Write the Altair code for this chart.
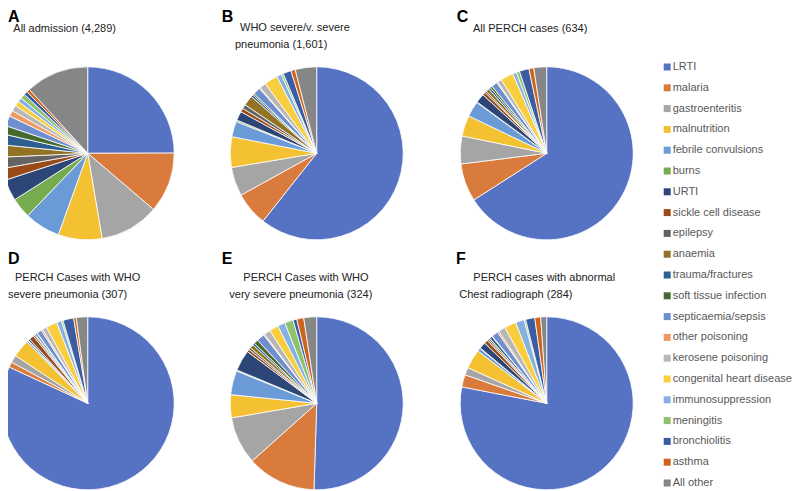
import altair as alt
import pandas as pd

categories = ["LRTI", "malaria", "gastroenteritis", "malnutrition", "febrile convulsions",
              "burns", "URTI", "sickle cell disease", "epilepsy", "anaemia",
              "trauma/fractures", "soft tissue infection", "septicaemia/sepsis",
              "other poisoning", "kerosene poisoning", "congenital heart disease",
              "immunosuppression", "meningitis", "bronchiolitis", "asthma", "All other"]

colors = ["#5672C3", "#D97B3C", "#A5A5A5", "#F3C131", "#6A9BD6", "#77AC4E", "#2C4678",
          "#9A4A17", "#636363", "#927323", "#2D5E92", "#466A2E", "#6D8FD0", "#EE9A62",
          "#B7B7B7", "#F9CE3E", "#84B1DF", "#90C16D", "#3A5CA2", "#CC6420", "#868686"]

# percentage shares (clockwise from 12 o'clock, legend order)
pct_A = [25.0, 11.3, 11.1, 8.2, 6.7, 3.8, 4.0, 2.2, 2.1, 2.3, 2.0, 1.6, 1.9, 1.1, 1.1, 0.95, 0.8, 0.9, 0.7, 0.6, 11.8]
pct_B = [60.6, 6.3, 5.4, 5.7, 2.9, 0.3, 1.7, 0.7, 0.8, 1.9, 0.4, 0.3, 1.4, 0.2, 1.2, 2.5, 0.9, 0.4, 1.5, 0.8, 4.0]
pct_C = [66.0, 7.1, 5.2, 3.9, 2.9, 0.1, 1.7, 0.6, 0.3, 0.6, 0.4, 0.4, 1.1, 0.2, 0.8, 2.4, 0.7, 0.6, 1.8, 0.9, 2.4]
pct_D = [81.8, 1.0, 1.4, 3.3, 0.3, 0.1, 0.3, 0.9, 0.3, 0.2, 0.3, 0.1, 0.9, 0.3, 0.8, 2.1, 0.9, 0.3, 2.0, 0.5, 2.1]
pct_E = [50.5, 12.9, 8.9, 4.3, 4.5, 0.2, 3.9, 0.5, 0.4, 0.7, 0.4, 0.8, 1.5, 0.2, 1.2, 1.7, 1.4, 1.6, 0.7, 1.3, 2.4]
pct_F = [77.8, 2.3, 1.4, 3.6, 0.6, 0.1, 1.2, 0.7, 0.3, 0.3, 0.5, 0.1, 1.2, 0.3, 1.3, 2.2, 1.6, 0.3, 1.7, 1.1, 1.1]

panel_letters = ["A", "B", "C", "D", "E", "F"]
panel_titles = [
    ["All admission (4,289)"],
    ["WHO severe/v. severe", "pneumonia (1,601)"],
    ["All PERCH cases (634)"],
    ["PERCH Cases with WHO", "severe pneumonia (307)"],
    ["PERCH Cases with WHO", "very severe pneumonia (324)"],
    ["PERCH cases with abnormal", "Chest radiograph (284)"],
]
panel_values = [pct_A, pct_B, pct_C, pct_D, pct_E, pct_F]

# ---- layout (pixels inside the view) ----
R = 86.5
centers = [(79.7, 145.3), (308.7, 145.3), (538.7, 145.3),
           (79.7, 395.3), (308.7, 395.3), (538.7, 395.3)]
# letters placed by the top of their text box
letter_pos = [(0, 0.5), (213.7, 0.5), (448.7, 0.5), (0, 243), (213.7, 243), (448, 243)]
title_pos = [
    [(5.3, 23.7)],
    [(232, 23), (227, 40.3)],
    [(465, 24)],
    [(7, 272.7), (0, 290.3)],
    [(235.3, 272.7), (221.3, 290.3)],
    [(465.3, 272.5), (451.3, 290.3)],
]

FONT = "Liberation Sans"

legend = alt.Legend(
    orient="none", legendX=653.7, legendY=53.5, title=None,
    symbolType="square", symbolSize=49, symbolStrokeWidth=0,
    labelFont=FONT, labelFontSize=11, labelColor="#595959",
    rowPadding=8.8, labelOffset=0, padding=0, labelLimit=300,
)

layers = []
for vals, (cx, cy) in zip(panel_values, centers):
    df = pd.DataFrame({"category": categories,
                       "rank": list(range(len(categories))),
                       "share": vals})
    layers.append(
        alt.Chart(df).mark_arc(radius=R, stroke="white", strokeWidth=0.8).encode(
            theta=alt.Theta("share:Q", stack=True),
            color=alt.Color("category:N",
                            scale=alt.Scale(domain=categories, range=colors),
                            sort=categories, legend=legend),
            order=alt.Order("rank:Q", sort="ascending"),
            x=alt.value(cx), y=alt.value(cy),
        )
    )

for letter, (lx, ly), lines, poss in zip(panel_letters, letter_pos, panel_titles, title_pos):
    layers.append(
        alt.Chart(pd.DataFrame({"label": [letter]})).mark_text(
            font=FONT, fontSize=16, fontWeight="bold", color="#000000",
            align="left", baseline="top"
        ).encode(text="label:N", x=alt.value(lx), y=alt.value(ly))
    )
    for line, (tx, ty) in zip(lines, poss):
        layers.append(
            alt.Chart(pd.DataFrame({"label": [line]})).mark_text(
                font=FONT, fontSize=11, color="#222222",
                align="left", baseline="alphabetic"
            ).encode(text="label:N", x=alt.value(tx), y=alt.value(ty))
        )

chart = alt.layer(*layers).resolve_scale(theta="independent").properties(
    width=784, height=483, padding=0, autosize="none", background="white"
).configure_view(stroke=None)

chart.save("out.html", embed_options={"renderer": "svg", "actions": False})
